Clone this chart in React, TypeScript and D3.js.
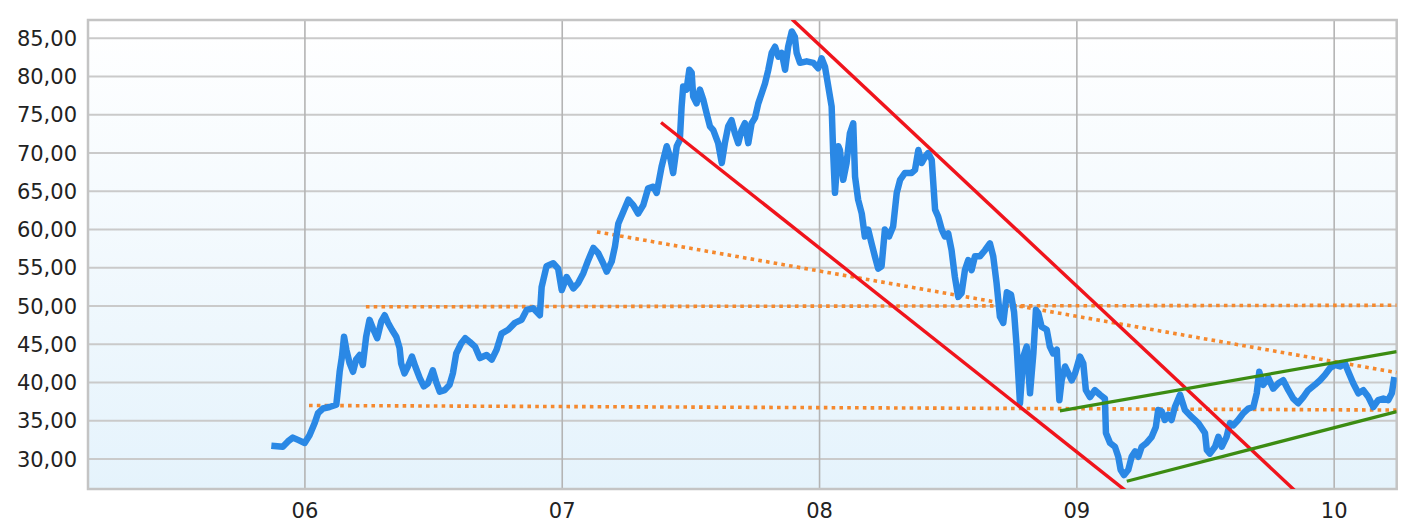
import React from 'react';
import * as d3 from 'd3';

// ---- Data ----
const yTickValues = [30, 35, 40, 45, 50, 55, 60, 65, 70, 75, 80, 85];
const xTickYears = [2006, 2007, 2008, 2009, 2010];
const xTickLabels = ['06', '07', '08', '09', '10'];
const xDomain = [2005.157, 2010.243];
const yDomain = [26.08, 87.4];

const priceYears = [
  2005.882, 2005.914, 2005.934, 2005.953, 2005.973, 2005.999, 2006.018, 2006.038, 2006.051, 2006.070,
  2006.096, 2006.122, 2006.128, 2006.135, 2006.144, 2006.152, 2006.161, 2006.174, 2006.187, 2006.199,
  2006.213, 2006.225, 2006.238, 2006.251, 2006.264, 2006.281, 2006.297, 2006.310, 2006.323, 2006.338,
  2006.355, 2006.368, 2006.374, 2006.387, 2006.400, 2006.416, 2006.429, 2006.446, 2006.462, 2006.478,
  2006.497, 2006.510, 2006.524, 2006.543, 2006.562, 2006.575, 2006.588, 2006.607, 2006.623, 2006.641,
  2006.661, 2006.680, 2006.706, 2006.726, 2006.745, 2006.764, 2006.790, 2006.816, 2006.842, 2006.862,
  2006.887, 2006.913, 2006.920, 2006.939, 2006.965, 2006.984, 2006.998, 2007.017, 2007.043, 2007.062,
  2007.082, 2007.101, 2007.121, 2007.140, 2007.159, 2007.173, 2007.192, 2007.205, 2007.218, 2007.237,
  2007.257, 2007.276, 2007.295, 2007.315, 2007.334, 2007.354, 2007.367, 2007.386, 2007.406, 2007.419,
  2007.431, 2007.445, 2007.457, 2007.464, 2007.470, 2007.483, 2007.494, 2007.503, 2007.509, 2007.522,
  2007.535, 2007.548, 2007.561, 2007.574, 2007.587, 2007.606, 2007.620, 2007.632, 2007.645, 2007.658,
  2007.671, 2007.684, 2007.697, 2007.710, 2007.723, 2007.736, 2007.749, 2007.762, 2007.775, 2007.788,
  2007.801, 2007.814, 2007.827, 2007.840, 2007.853, 2007.866, 2007.878, 2007.892, 2007.904, 2007.911,
  2007.924, 2007.950, 2007.976, 2007.995, 2008.008, 2008.021, 2008.034, 2008.047, 2008.053, 2008.060,
  2008.073, 2008.079, 2008.092, 2008.105, 2008.118, 2008.131, 2008.138, 2008.150, 2008.164, 2008.176,
  2008.189, 2008.202, 2008.215, 2008.228, 2008.241, 2008.254, 2008.270, 2008.286, 2008.300, 2008.313,
  2008.332, 2008.358, 2008.371, 2008.384, 2008.397, 2008.410, 2008.422, 2008.436, 2008.449, 2008.461,
  2008.475, 2008.487, 2008.500, 2008.513, 2008.526, 2008.539, 2008.552, 2008.565, 2008.578, 2008.591,
  2008.604, 2008.623, 2008.643, 2008.662, 2008.675, 2008.688, 2008.701, 2008.714, 2008.728, 2008.744,
  2008.756, 2008.766, 2008.779, 2008.792, 2008.805, 2008.818, 2008.831, 2008.841, 2008.850, 2008.863,
  2008.883, 2008.895, 2008.908, 2008.922, 2008.932, 2008.941, 2008.954, 2008.967, 2008.980, 2008.993,
  2009.012, 2009.025, 2009.035, 2009.051, 2009.070, 2009.090, 2009.109, 2009.113, 2009.129, 2009.148,
  2009.161, 2009.170, 2009.183, 2009.200, 2009.213, 2009.226, 2009.239, 2009.252, 2009.271, 2009.291,
  2009.307, 2009.316, 2009.330, 2009.342, 2009.355, 2009.368, 2009.381, 2009.401, 2009.420, 2009.446,
  2009.472, 2009.498, 2009.505, 2009.517, 2009.537, 2009.550, 2009.563, 2009.582, 2009.595, 2009.608,
  2009.627, 2009.647, 2009.666, 2009.686, 2009.699, 2009.709, 2009.724, 2009.744, 2009.763, 2009.783,
  2009.802, 2009.822, 2009.841, 2009.860, 2009.880, 2009.899, 2009.925, 2009.945, 2009.964, 2009.984,
  2010.003, 2010.023, 2010.042, 2010.055, 2010.074, 2010.094, 2010.113, 2010.133, 2010.152, 2010.171,
  2010.191, 2010.210, 2010.224, 2010.232,
];

const priceValues = [
  31.7, 31.6, 32.3, 32.8, 32.5, 32.1, 33.1, 34.7, 36.0, 36.6,
  36.8, 37.1, 39.0, 41.4, 43.4, 46.0, 44.3, 42.5, 41.4, 43.0,
  43.6, 42.3, 46.0, 48.2, 47.1, 45.8, 48.0, 48.8, 47.8, 46.9,
  46.0, 44.5, 42.5, 41.2, 42.1, 43.4, 42.1, 40.6, 39.5, 39.9,
  41.6, 40.1, 38.8, 39.0, 39.7, 41.2, 43.8, 45.1, 45.8, 45.3,
  44.7, 43.2, 43.6, 43.0, 44.3, 46.4, 46.9, 47.8, 48.2, 49.5,
  49.7, 48.8, 52.5, 55.2, 55.6, 54.9, 52.1, 53.8, 52.3, 53.0,
  54.3, 56.0, 57.6, 56.9, 55.6, 54.5, 55.8, 57.8, 60.8, 62.3,
  63.9, 63.2, 62.1, 63.2, 65.4, 65.6, 64.8, 68.2, 70.9, 69.5,
  67.4, 70.9, 71.7, 76.1, 78.7, 78.3, 80.9, 80.5, 77.4, 76.5,
  78.3, 77.0, 75.2, 73.5, 73.0, 71.3, 68.7, 71.3, 73.5, 74.3,
  72.6, 71.3, 73.0, 73.9, 71.3, 73.9, 74.6, 76.5, 77.8, 79.1,
  80.9, 83.1, 83.9, 82.6, 83.1, 80.9, 83.9, 85.9, 85.2, 83.1,
  81.8, 82.0, 81.8, 81.1, 82.4, 81.3, 78.7, 76.1, 70.0, 64.8,
  70.9, 70.4, 66.5, 68.7, 72.6, 73.9, 66.9, 63.9, 62.1, 59.1,
  60.0, 58.2, 56.5, 54.9, 55.2, 60.0, 59.1, 60.4, 64.8, 66.5,
  67.4, 67.4, 67.8, 70.4, 68.7, 69.5, 70.0, 69.1, 62.6, 61.7,
  60.0, 59.1, 59.5, 57.3, 53.8, 51.2, 51.7, 54.7, 56.0, 54.7,
  56.5, 56.5, 57.3, 58.2, 56.5, 53.0, 48.6, 47.8, 51.8, 51.5,
  49.2, 44.7, 37.3, 43.4, 44.7, 38.6, 43.8, 49.5, 49.1, 47.3,
  46.9, 44.7, 43.8, 44.3, 37.7, 40.3, 42.1, 41.2, 40.3, 41.2,
  43.4, 42.5, 39.0, 38.1, 39.0, 38.4, 37.9, 33.4, 32.1, 31.6,
  30.3, 28.6, 27.9, 28.6, 30.3, 31.0, 30.3, 31.6, 32.1, 32.9,
  34.2, 36.4, 36.2, 35.1, 35.8, 35.1, 36.8, 38.4, 36.4, 35.5,
  34.7, 33.4, 31.2, 30.7, 31.6, 32.9, 31.6, 32.9, 34.7, 34.4,
  35.1, 36.0, 36.6, 36.8, 38.6, 41.4, 39.7, 40.6, 39.2, 39.9,
  40.3, 39.0, 37.9, 37.3, 38.1, 39.0, 39.7, 40.3, 41.0, 41.9,
  42.3, 42.1, 42.5, 41.4, 39.9, 38.6, 39.0, 38.1, 36.8, 37.7,
  37.9, 37.7, 38.6, 40.3,
];

// trend lines: [year, value] endpoints
const redChannelUpper = [[2007.893, 87.5], [2009.848, 25.85]];
const redChannelLower = [[2007.384, 74.0], [2009.19, 25.85]];
const greenChannelUpper = [[2008.934, 36.3], [2010.243, 44.04]];
const greenChannelLower = [[2009.194, 27.1], [2010.243, 36.2]];
const orangeSupport = [[2006.016, 37.0], [2010.243, 36.4]];
const orangeResistance = [[2006.237, 49.9], [2010.243, 50.1]];
const orangeFalling = [[2007.135, 59.7], [2010.243, 41.3]];

// ---- Layout ----
const W = 1419;
const H = 531;
const left = 88;
const right = 1396.7;
const top = 20;
const bottom = 489;

export default function App() {
  const x = d3.scaleLinear().domain(xDomain).range([left, right]);
  const y = d3.scaleLinear().domain(yDomain).range([bottom, top]);
  const line = d3
    .line<number[]>()
    .x((d) => x(d[0]))
    .y((d) => y(d[1]));
  const pricePts = priceYears.map((yr, i) => [yr, priceValues[i]]);
  const fmt = (v: number) => d3.format('.2f')(v).replace('.', ',');
  const font = 'DejaVu Sans, Verdana, sans-serif';

  return (
    <svg
      width={W}
      height={H}
      style={{ position: 'absolute', left: 0, top: 0, background: '#fff' }}
    >
      <defs>
        <linearGradient id="bg" x1="0" y1="0" x2="0" y2="1">
          <stop offset="0%" stopColor="#ffffff" />
          <stop offset="100%" stopColor="#e5f3fc" />
        </linearGradient>
        <clipPath id="plot">
          <rect x={left} y={top} width={right - left} height={bottom - top} />
        </clipPath>
      </defs>
      <rect x={left} y={top} width={right - left} height={bottom - top} fill="url(#bg)" />
      {yTickValues.map((v) => (
        <line key={'h' + v} x1={left} x2={right} y1={y(v)} y2={y(v)} stroke="#cacaca" strokeWidth={2} />
      ))}
      {xTickYears.map((t) => (
        <line key={'v' + t} x1={x(t)} x2={x(t)} y1={top} y2={bottom} stroke="#b4b4b4" strokeWidth={1.6} />
      ))}
      <rect
        x={left}
        y={top}
        width={right - left}
        height={bottom - top}
        fill="none"
        stroke="#c4c4c4"
        strokeWidth={2.5}
      />
      <g clipPath="url(#plot)">
        {[orangeSupport, orangeResistance, orangeFalling].map((l, i) => (
          <path
            key={'o' + i}
            d={line(l) || ''}
            fill="none"
            stroke="#f5892e"
            strokeWidth={3.6}
            strokeDasharray="3.6 4.2"
          />
        ))}
        <path
          d={line(pricePts) || ''}
          fill="none"
          stroke="#2a88e5"
          strokeWidth={6.5}
          strokeLinejoin="round"
          strokeLinecap="square"
        />
        {[redChannelUpper, redChannelLower].map((l, i) => (
          <path key={'r' + i} d={line(l) || ''} fill="none" stroke="#f0141c" strokeWidth={3.4} />
        ))}
        {[greenChannelUpper, greenChannelLower].map((l, i) => (
          <path key={'g' + i} d={line(l) || ''} fill="none" stroke="#3c8c12" strokeWidth={3.2} />
        ))}
      </g>
      {yTickValues.map((v) => (
        <text
          key={'yl' + v}
          x={77}
          y={y(v)}
          dy="0.36em"
          textAnchor="end"
          fontFamily={font}
          fontSize={21}
          fill="#222"
        >
          {fmt(v)}
        </text>
      ))}
      {xTickYears.map((t, i) => (
        <text
          key={'xl' + t}
          x={x(t)}
          y={518}
          textAnchor="middle"
          fontFamily={font}
          fontSize={21}
          fill="#222"
        >
          {xTickLabels[i]}
        </text>
      ))}
    </svg>
  );
}
